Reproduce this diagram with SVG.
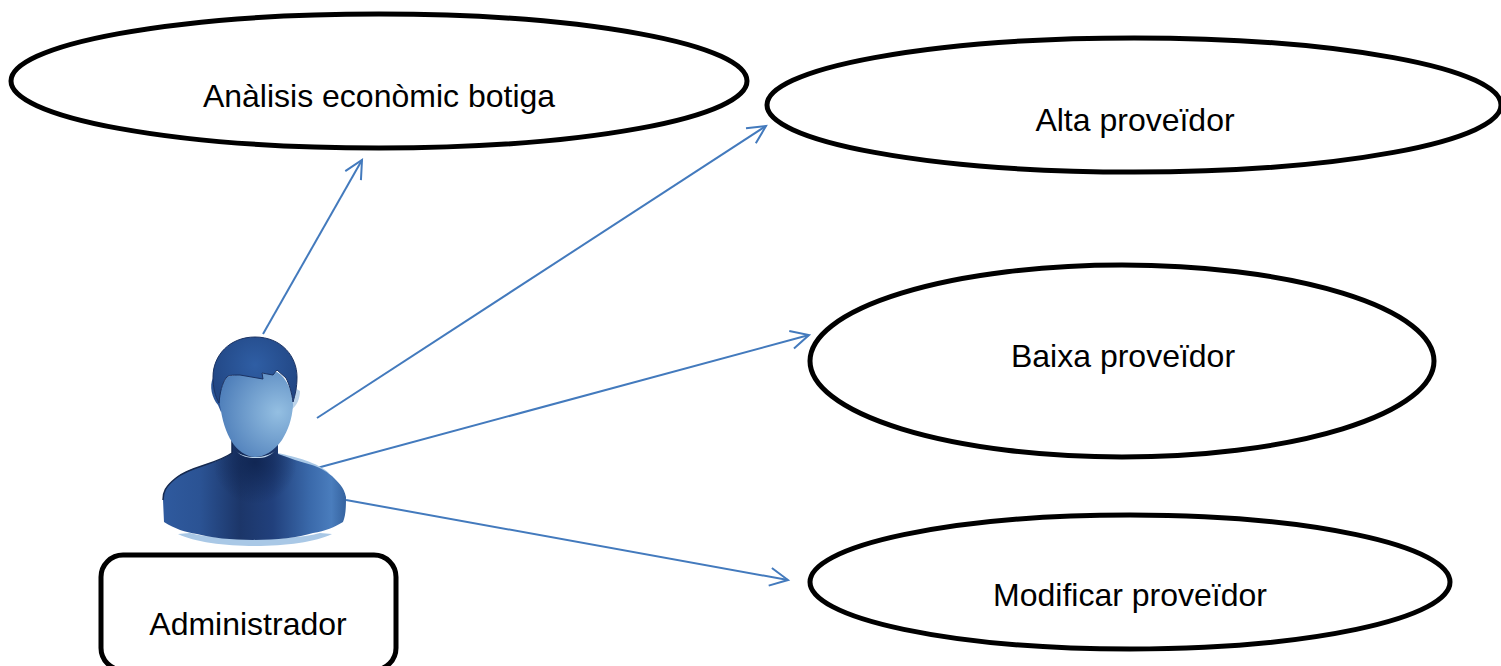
<svg xmlns="http://www.w3.org/2000/svg" width="1501" height="666" viewBox="0 0 1501 666">
<style>
.uc{fill:#fff;stroke:#000;stroke-width:5}
.lbl{font-family:"Liberation Sans",Arial,sans-serif;font-size:32px;fill:#000;text-anchor:middle}
.con{fill:none;stroke:#437abd;stroke-width:2}
</style>
<defs>
<marker id="arrow" markerUnits="userSpaceOnUse" markerWidth="24" markerHeight="24" refX="20" refY="10" orient="auto" viewBox="0 0 24 20">
<path d="M2 1L20 10L2 19" fill="none" stroke="#437abd" stroke-width="2"/>
</marker>
<radialGradient id="face" gradientUnits="userSpaceOnUse" cx="278" cy="412" r="60">
<stop offset="0" stop-color="#94bfe2"/><stop offset="1" stop-color="#4f7fba"/>
</radialGradient>
<radialGradient id="hair" gradientUnits="userSpaceOnUse" cx="255" cy="365" r="45">
<stop offset="0" stop-color="#2f5ea4"/><stop offset="1" stop-color="#224785"/>
</radialGradient>
<linearGradient id="body" gradientUnits="userSpaceOnUse" x1="163" y1="0" x2="346" y2="0">
<stop offset="0" stop-color="#2f5a9e"/><stop offset=".2" stop-color="#2b5394"/><stop offset=".42" stop-color="#1c3669"/><stop offset=".6" stop-color="#21407c"/><stop offset=".8" stop-color="#3a69aa"/><stop offset=".92" stop-color="#4a7dbd"/><stop offset="1" stop-color="#35639f"/>
</linearGradient>
<radialGradient id="neck" gradientUnits="userSpaceOnUse" cx="255" cy="462" r="42">
<stop offset="0" stop-color="#0f2450" stop-opacity=".9"/><stop offset="1" stop-color="#0f2450" stop-opacity="0"/>
</radialGradient>
<path id="torso" d="M232 440V453C215 465 190 466 176 478C165 487 163 492 163 500L164 522C175 529 185 532 197 534C225 542 285 542 313 533C325 531 335 527 343 522C346 515 346 505 346 497C344 487 338 482 332 476C325 470 318 467 312 465C300 462 290 458 278 454V440Z"/>
<clipPath id="torsoClip"><use href="#torso"/></clipPath>
</defs>
<g id="connectors">
<line class="con" x1="263" y1="334" x2="362" y2="160" marker-end="url(#arrow)"/>
<line class="con" x1="317" y1="418" x2="766" y2="126" marker-end="url(#arrow)"/>
<line class="con" x1="317" y1="468" x2="809" y2="335" marker-end="url(#arrow)"/>
<line class="con" x1="346" y1="500" x2="788" y2="580" marker-end="url(#arrow)"/>
</g>
<g id="node-analisis">
<ellipse class="uc" cx="379" cy="81" rx="368" ry="67"/>
<text class="lbl" x="379" y="107">Anàlisis econòmic botiga</text>
</g>
<g id="node-alta">
<ellipse class="uc" cx="1134" cy="105" rx="367" ry="67"/>
<text class="lbl" x="1135" y="131">Alta proveïdor</text>
</g>
<g id="node-baixa">
<ellipse class="uc" cx="1122" cy="361" rx="312" ry="96"/>
<text class="lbl" x="1123" y="367">Baixa proveïdor</text>
</g>
<g id="node-modificar">
<ellipse class="uc" cx="1130" cy="582" rx="320" ry="67"/>
<text class="lbl" x="1130" y="606">Modificar proveïdor</text>
</g>
<g id="node-administrador">
<path d="M178 534C210 550 300 550 332 534L320 533C290 541 220 541 190 533Z" fill="#a9c8e6"/>
<path d="M278 453C295 457 318 462 330 474C316 466 296 462 278 458Z" fill="#a9c8e6"/>
<use href="#torso" fill="url(#body)"/>
<rect x="205" y="430" width="100" height="80" fill="url(#neck)" clip-path="url(#torsoClip)"/>
<path d="M232 440V453C215 465 190 466 176 478C165 487 163 492 163 500" fill="none" stroke="#15294f" stroke-width="1.5"/>
<path d="M213 378C209 386 212 398 218 405L221 412L224 395Z" fill="#2b5597"/>
<path d="M295 388L300 391C300 398 297 406 291 410Z" fill="#bcd4ea"/>
<path d="M227 377C240 372 262 376 277 372C287 378 293 392 293 405C292 420 288 430 282 440C274 451 264 457 255 457C246 457 237 450 232 442C226 433 222 420 220 405C219 395 221 385 227 377Z" fill="url(#face)"/>
<path d="M236 451C245 459 265 459 275 451C268 458 262 458 255 458C248 458 242 457 236 451Z" fill="#bcd4ea"/>
<path d="M213 377C213 355 230 337 255 337C282 337 297 357 297 377C297 388 295 395 293 402C292 393 289 384 286 378L277 370L273 375L262 373L263 379L240 375C232 375 228 375 226 378C222 384 220 392 219 403C215 396 213 387 213 377Z" fill="url(#hair)" stroke="#1a3263" stroke-width="1"/>
<rect x="101" y="555" width="295" height="115" rx="22" class="uc"/>
<text class="lbl" x="248" y="635">Administrador</text>
</g>
</svg>
